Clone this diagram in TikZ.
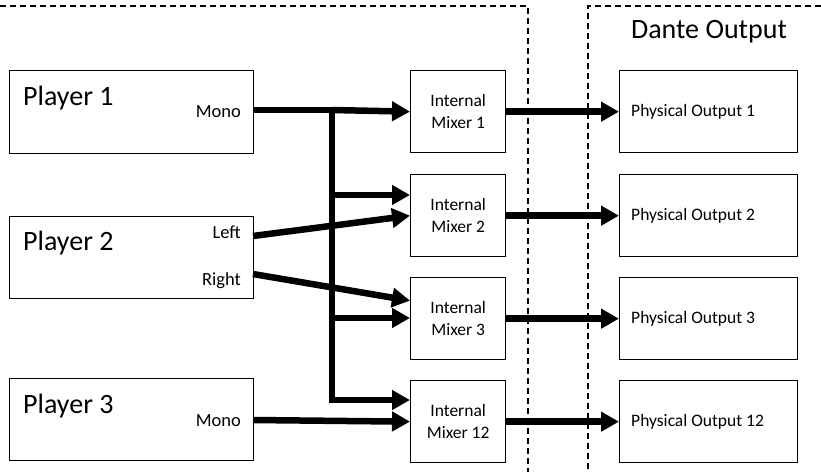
\documentclass[tikz,border=0pt]{standalone}
\usepackage{fontspec}
\setmainfont{Carlito}
\usetikzlibrary{arrows.meta}
\begin{document}
\begin{tikzpicture}[x=1pt,y=-1pt,
  box/.style={draw=black,line width=1.3pt,inner sep=0pt,anchor=north west},
  wire/.style={line width=6.5pt,black},
  arr/.style={wire,-{Triangle[length=18pt,width=19pt]}},
  region/.style={draw=black,line width=1.3pt,dash pattern=on 6pt off 4pt},
  big/.style={font=\fontsize{28}{32}\selectfont,inner sep=0pt},
  port/.style={font=\fontsize{18.5}{21}\selectfont,inner sep=0pt},
  small/.style={font=\fontsize{17.5}{22}\selectfont,inner sep=0pt,align=center}]
\useasboundingbox (0,0) rectangle (821,472);
% dashed regions
\draw[region] (0,6) -- (528,6) -- (528,472);
\draw[region] (821,6) -- (588,6) -- (588,472);
\node[big] (dante) at (709,32) {Dante Output};
% players
\node[box,minimum width=244pt,minimum height=83pt] (p1) at (9,70) {};
\node[box,minimum width=244pt,minimum height=82pt] (p2) at (9,216) {};
\node[box,minimum width=244pt,minimum height=82pt] (p3) at (9,378) {};
\node[big,anchor=base west] (p1t) at (23,105) {Player 1};
\node[big,anchor=base west] (p2t) at (23,250) {Player 2};
\node[big,anchor=base west] (p3t) at (23,413) {Player 3};
\node[port,anchor=base east] (p1m) at (241,117) {Mono};
\node[port,anchor=base east] (p2l) at (241,238) {Left};
\node[port,anchor=base east] (p2r) at (241,285) {Right};
\node[port,anchor=base east] (p3m) at (241,426) {Mono};
% mixers
\foreach \n/\y/\l in {m1/70/1,m2/174/2,m3/277/3,m12/380/12}{
  \node[box,minimum width=95pt,minimum height=82pt] (\n) at (410,\y) {};
  \node[small] at (\n.center) {Internal\\Mixer \l};
}
% outputs
\foreach \n/\y/\l in {o1/70/1,o2/174/2,o3/277/3,o12/380/12}{
  \node[box,minimum width=178pt,minimum height=82pt] (\n) at (619,\y) {};
  \node[small,anchor=west] at ([xshift=12pt]\n.west) {Physical Output \l};
}
% ports and junctions
\coordinate (p1o) at (253,110);
\coordinate (p2lo) at (253,236);
\coordinate (p2ro) at (253,274);
\coordinate (p3o) at (253,420);
\coordinate (jt) at (332,106.75);
\coordinate (j1) at (332,110);
\coordinate (j2) at (332,195);
\coordinate (j3) at (332,318);
\coordinate (j4) at (332,400);
% wires
\draw[wire] (p1o) -- (j1);
\draw[arr] (j1) -- (m1.west);
\draw[wire] (jt) -- (j4);
\draw[arr] ([xshift=-3.25pt]j4) -- (m12.west |- j4);
\draw[arr] (j2) -- (m2.west |- j2);
\draw[arr] (j3) -- (m3.west |- j3);
\draw[arr] (p2lo) -- (m2.west);
\draw[arr] (p2ro) -- ([yshift=18pt]m3.west);
\draw[arr] (p3o) -- (m12.west);
\foreach \a/\b in {m1/o1,m2/o2,m3/o3,m12/o12}
  \draw[arr] (\a.east) -- (\b.west);
\end{tikzpicture}
\end{document}
